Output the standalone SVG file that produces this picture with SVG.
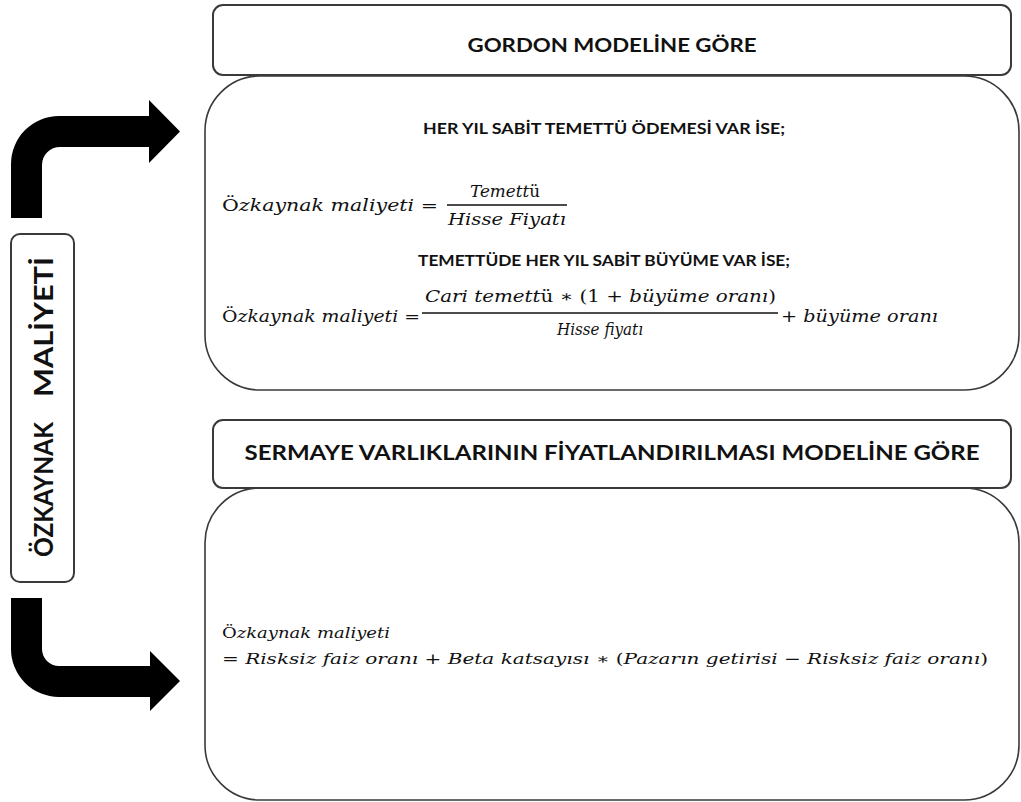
<svg xmlns="http://www.w3.org/2000/svg" width="1021" height="802" viewBox="0 0 1021 802">
  <style>
    .hdr { fill: #ffffff; stroke: #3a3a3a; stroke-width: 2; }
    .panel { fill: #ffffff; stroke: #3a3a3a; stroke-width: 1.6; }
    .bold { font-family: Lato, "Open Sans", "Liberation Sans", sans-serif; font-weight: 700; fill: #111111; }
    .math { font-family: "DejaVu Serif", "Liberation Serif", serif; font-style: italic; fill: #111111; }
    .up { font-style: normal; }
    .rule { stroke: #111111; stroke-width: 1.3; }
    .arrow { fill: #000000; }
  </style>

  <!-- vertical label -->
  <g id="label-ozkaynak">
    <rect x="11" y="234" width="63" height="348" rx="9" class="hdr" stroke-width="1.6"/>
    <g transform="translate(53,557) rotate(-90)">
      <text x="0" y="0" class="bold" font-size="26" textLength="135" lengthAdjust="spacingAndGlyphs">ÖZKAYNAK</text>
      <text x="160" y="0" class="bold" font-size="26" textLength="140" lengthAdjust="spacingAndGlyphs">MALİYETİ</text>
    </g>
  </g>

  <!-- bent arrows from the label to the two model panels -->
  <g id="connectors">
    <path class="arrow" d="M 11 218 L 11 164 A 48 48 0 0 1 59 116 L 149 116 L 149 100 L 180 131.5 L 149 163 L 149 147 L 60 147 A 18 18 0 0 0 42 165 L 42 218 Z"/>
    <path class="arrow" d="M 11 598 L 42 598 L 42 649 A 17 17 0 0 0 59 666 L 150 666 L 150 651 L 180 681 L 150 711 L 150 697 L 59 697 A 48 48 0 0 1 11 649 Z"/>
  </g>

  <!-- Gordon model -->
  <g id="gordon-panel">
    <rect x="205" y="76" width="814" height="314" rx="55" ry="55" class="panel"/>
    <text x="604" y="134" text-anchor="middle" class="bold" font-size="15" textLength="362" lengthAdjust="spacingAndGlyphs">HER YIL SABİT TEMETTÜ ÖDEMESİ VAR İSE;</text>

    <text x="222" y="211" class="math" font-size="17" textLength="216" lengthAdjust="spacingAndGlyphs"><tspan class="up">Ö</tspan>zkaynak maliyeti <tspan class="up">=</tspan></text>
    <text x="505" y="197" text-anchor="middle" class="math" font-size="17" textLength="70" lengthAdjust="spacingAndGlyphs">Temett<tspan class="up">ü</tspan></text>
    <line x1="447" y1="205" x2="567" y2="205" class="rule"/>
    <text x="507" y="225" text-anchor="middle" class="math" font-size="17" textLength="118" lengthAdjust="spacingAndGlyphs">Hisse Fiyatı</text>

    <text x="604" y="266" text-anchor="middle" class="bold" font-size="15" textLength="372" lengthAdjust="spacingAndGlyphs">TEMETTÜDE HER YIL SABİT BÜYÜME VAR İSE;</text>

    <text x="222" y="322" class="math" font-size="16" textLength="198" lengthAdjust="spacingAndGlyphs"><tspan class="up">Ö</tspan>zkaynak maliyeti <tspan class="up">=</tspan></text>
    <text x="425" y="302" class="math" font-size="16" textLength="351" lengthAdjust="spacingAndGlyphs">Cari temett<tspan class="up">ü ∗ (1 + </tspan>büyüme oranı<tspan class="up">)</tspan></text>
    <line x1="422" y1="313" x2="778" y2="313" class="rule"/>
    <text x="600" y="335" text-anchor="middle" class="math" font-size="16" textLength="86" lengthAdjust="spacingAndGlyphs">Hisse fiyatı</text>
    <text x="781" y="322" class="math" font-size="16" textLength="157" lengthAdjust="spacingAndGlyphs"><tspan class="up">+ </tspan>büyüme oranı</text>
  </g>

  <g id="gordon-header">
    <rect x="213" y="5" width="798" height="70" rx="10" class="hdr"/>
    <text x="612" y="52" text-anchor="middle" class="bold" font-size="19" textLength="289" lengthAdjust="spacingAndGlyphs">GORDON MODELİNE GÖRE</text>
  </g>

  <!-- capital asset pricing model -->
  <g id="capm-panel">
    <rect x="205" y="488" width="814" height="312" rx="55" ry="55" class="panel"/>
    <text x="222" y="638" class="math" font-size="15" textLength="168" lengthAdjust="spacingAndGlyphs"><tspan class="up">Ö</tspan>zkaynak maliyeti</text>
    <text x="222" y="664" class="math" font-size="15" textLength="766" lengthAdjust="spacingAndGlyphs"><tspan class="up">= </tspan>Risksiz faiz oranı <tspan class="up">+ </tspan>Beta katsayısı <tspan class="up">∗ (</tspan>Pazarın getirisi <tspan class="up">− </tspan>Risksiz faiz oranı<tspan class="up">)</tspan></text>
  </g>

  <g id="capm-header">
    <rect x="213" y="420" width="798" height="68" rx="10" class="hdr"/>
    <text x="612" y="460" text-anchor="middle" class="bold" font-size="20" textLength="735" lengthAdjust="spacingAndGlyphs">SERMAYE VARLIKLARININ FİYATLANDIRILMASI MODELİNE GÖRE</text>
  </g>
</svg>
